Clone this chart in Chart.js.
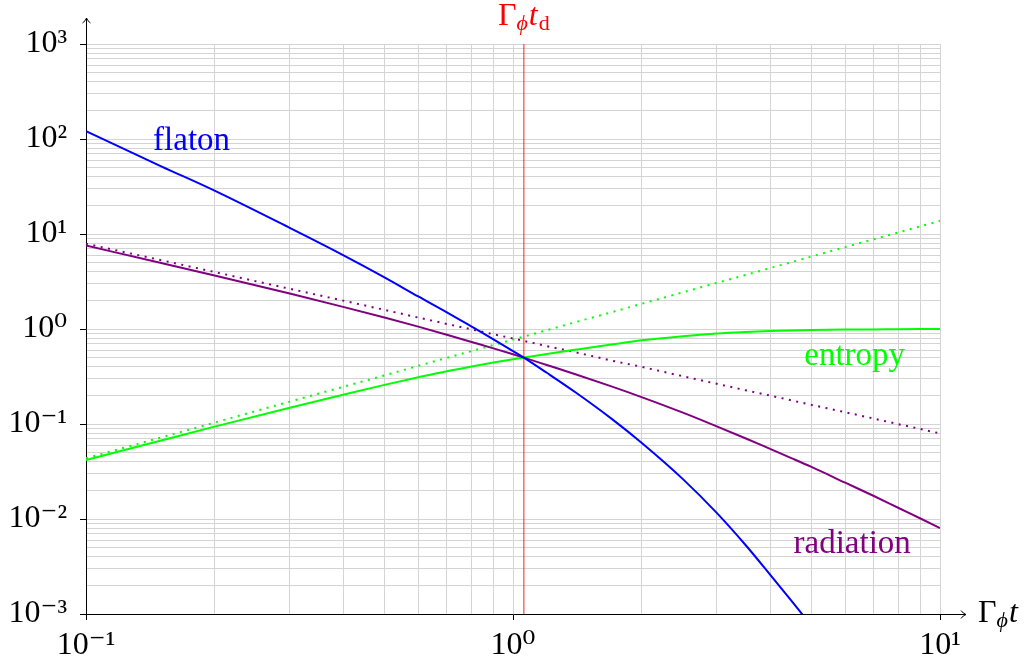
<!DOCTYPE html>
<html lang="en">
<head>
  <meta charset="UTF-8">
  <title>Flaton decay</title>
  <script src="https://cdn.jsdelivr.net/npm/chart.js"></script>
  <style>
    body { margin: 0; background: #fff; }
    canvas { display: block; }
  </style>
</head>
<body>
  <canvas id="myChart" width="1030" height="666"></canvas>

  <script>
    // values, x = Γφ t
    const tValues = [0.1, 0.15, 0.2, 0.3, 0.4, 0.5, 0.6, 0.7, 0.8, 0.9, 1.0, 1.06, 1.2, 1.4, 1.7, 2, 2.5, 3, 3.5, 4, 4.5, 5, 6, 7, 8, 9, 10];
    const flaton    = [121, 51.6, 28.6, 11.6, 6.0, 3.5, 2.2, 1.5, 1.06, 0.778, 0.586, 0.5, 0.346, 0.216, 0.114, 0.0635, 0.0263, 0.0116, 0.00536, 0.0026, 0.00136, 0.00075];
    const radiation = [7.55, 4.95, 3.66, 2.36, 1.71, 1.32, 1.06, 0.87, 0.73, 0.625, 0.542, 0.5, 0.418, 0.334, 0.249, 0.192, 0.1316, 0.0944, 0.0708, 0.0547, 0.0435, 0.0353, 0.0241, 0.01746, 0.01306, 0.01012, 0.00804];
    const entropy   = [0.0418, 0.0671, 0.0938, 0.148, 0.203, 0.258, 0.31, 0.36, 0.404, 0.444, 0.48, 0.5, 0.546, 0.605, 0.686, 0.76, 0.84, 0.895, 0.928, 0.95, 0.966, 0.975, 0.985, 0.99, 0.995, 0.998, 1.0];
    // dotted approximations
    const radiationApprox = [7.9, 5.3, 3.98, 2.65, 1.99, 1.59, 1.32, 1.13, 0.99, 0.88, 0.795, 0.75, 0.66, 0.57, 0.465, 0.40, 0.318, 0.265, 0.227, 0.199, 0.177, 0.159, 0.133, 0.114, 0.0995, 0.0885, 0.0795];
    const entropyApprox   = [0.0435, 0.0723, 0.1035, 0.172, 0.246, 0.325, 0.409, 0.496, 0.586, 0.678, 0.774, 0.832, 0.972, 1.18, 1.50, 1.84, 2.43, 3.06, 3.70, 4.38, 5.07, 5.79, 7.27, 8.81, 10.4, 12.07, 13.76];

    const tDecay = 1.06;
    const xRange = [0.1, 10];
    const yRange = [1e-3, 1e3];
    const xTickLabels = ['10⁻¹', '10⁰', '10¹'];
    const yTickLabels = ['10⁻³', '10⁻²', '10⁻¹', '10⁰', '10¹', '10²', '10³'];

    const serif = '"Liberation Serif", "DejaVu Serif", serif';
    Chart.defaults.font.family = serif;
    Chart.defaults.color = '#000';

    function points(ys) {
      return ys.map((y, i) => ({x: tValues[i], y: y}));
    }

    // one tick per 1..9 x 10^n, major on powers of ten
    function decadeTicks(scale) {
      const lo = Math.round(Math.log10(scale.min));
      const hi = Math.round(Math.log10(scale.max));
      const ticks = [];
      for (let e = lo; e < hi; e++) {
        for (let k = 1; k < 10; k++) ticks.push({value: k * Math.pow(10, e), major: k === 1});
      }
      ticks.push({value: Math.pow(10, hi), major: true});
      scale.ticks = ticks;
    }

    function labelFor(labels, min) {
      return function (value, index, ticks) {
        if (!ticks[index].major) return '';
        return labels[Math.round(Math.log10(value)) - Math.round(Math.log10(min))];
      };
    }

    // Γφt with subscript pieces
    function drawSymbol(ctx, parts, x, y, align) {
      const widths = parts.map(p => {
        ctx.font = p.style + ' ' + p.size + 'px ' + serif;
        return ctx.measureText(p.text).width + (p.gap || 0);
      });
      const total = widths.reduce((a, b) => a + b, 0);
      let cx = align === 'center' ? x - total / 2 : x;
      ctx.textAlign = 'left';
      ctx.textBaseline = 'alphabetic';
      parts.forEach((p, i) => {
        ctx.font = p.style + ' ' + p.size + 'px ' + serif;
        ctx.fillText(p.text, cx, y + (p.dy || 0));
        cx += widths[i];
      });
    }

    const decorations = {
      id: 'decorations',
      afterDraw(chart) {
        const {ctx, chartArea: a, scales: {x, y}} = chart;
        ctx.save();

        // axis arrows
        ctx.strokeStyle = '#000';
        ctx.lineWidth = 1;
        ctx.beginPath();
        ctx.moveTo(a.left + 0.5, a.top);
        ctx.lineTo(a.left + 0.5, a.top - 26);
        ctx.moveTo(a.left - 3.5, a.top - 21);
        ctx.quadraticCurveTo(a.left - 0.5, a.top - 23, a.left + 0.5, a.top - 26);
        ctx.quadraticCurveTo(a.left + 1.5, a.top - 23, a.left + 4.5, a.top - 21);
        ctx.moveTo(a.right, a.bottom + 0.5);
        ctx.lineTo(a.right + 26, a.bottom + 0.5);
        ctx.moveTo(a.right + 21, a.bottom - 3.5);
        ctx.quadraticCurveTo(a.right + 23, a.bottom - 0.5, a.right + 26, a.bottom + 0.5);
        ctx.quadraticCurveTo(a.right + 23, a.bottom + 1.5, a.right + 21, a.bottom + 4.5);
        ctx.stroke();

        // curve names
        ctx.font = '33px ' + serif;
        ctx.textAlign = 'left';
        ctx.textBaseline = 'alphabetic';
        ctx.fillStyle = '#0000ff';
        ctx.fillText('flaton', x.getPixelForValue(0.1436), y.getPixelForValue(76.6));
        ctx.fillStyle = '#00ff00';
        ctx.fillText('entropy', x.getPixelForValue(4.81), y.getPixelForValue(0.418));
        ctx.fillStyle = '#800080';
        ctx.fillText('radiation', x.getPixelForValue(4.54), y.getPixelForValue(0.00438));

        // Γφ t_d above the red line
        ctx.fillStyle = '#ff0000';
        drawSymbol(ctx, [
          {text: 'Γ', size: 32, style: ''},
          {text: 'ϕ', size: 22, style: 'italic', dy: 5, gap: 1},
          {text: 't', size: 32, style: 'italic', gap: 1},
          {text: 'd', size: 22, style: '', dy: 5}
        ], x.getPixelForValue(tDecay), a.top - 19, 'center');

        // axis name
        ctx.fillStyle = '#000';
        drawSymbol(ctx, [
          {text: 'Γ', size: 32, style: ''},
          {text: 'ϕ', size: 22, style: 'italic', dy: 5, gap: 1},
          {text: 't', size: 32, style: 'italic'}
        ], a.right + 38, a.bottom + 8, 'left');

        ctx.restore();
      }
    };

    const solid = (label, data, color) => ({
      label: label, data: points(data), borderColor: color, borderWidth: 2,
      pointRadius: 0, cubicInterpolationMode: 'monotone'
    });
    const dotted = (label, data, color) => ({
      label: label, data: points(data), borderColor: color, borderWidth: 2,
      borderDash: [2, 5.5], pointRadius: 0
    });

    const ctx = document.getElementById('myChart').getContext('2d');
    const myChart = new Chart(ctx, {
      type: 'scatter',
      data: {
        datasets: [
          solid('flaton', flaton, '#0000ff'),
          solid('radiation', radiation, '#800080'),
          solid('entropy', entropy, '#00ff00'),
          dotted('radiation approx', radiationApprox, '#800080'),
          dotted('entropy approx', entropyApprox, '#00ff00'),
          {
            label: 'decay time',
            data: [{x: tDecay, y: yRange[0]}, {x: tDecay, y: yRange[1]}],
            borderColor: 'rgba(255, 0, 0, 0.55)', borderWidth: 1.6, pointRadius: 0
          }
        ]
      },
      options: {
        responsive: false,
        animation: false,
        showLine: true,
        layout: { padding: { left: 0, top: 44, right: 90, bottom: 0 } },
        plugins: { legend: { display: false }, tooltip: { enabled: false } },
        scales: {
          x: {
            type: 'logarithmic',
            min: xRange[0], max: xRange[1],
            afterBuildTicks: decadeTicks,
            afterFit: s => { s.height = 52; },
            border: { color: '#000', width: 1 },
            grid: {
              color: '#d4d4d4', lineWidth: 1, tickLength: 6,
              tickColor: c => (c.tick && c.tick.major) ? '#000' : 'rgba(0,0,0,0)'
            },
            ticks: {
              autoSkip: false, maxRotation: 0, padding: 6,
              font: { size: 32 },
              callback: labelFor(xTickLabels, xRange[0])
            }
          },
          y: {
            type: 'logarithmic',
            min: yRange[0], max: yRange[1],
            afterBuildTicks: decadeTicks,
            afterFit: s => { s.width = 86; },
            border: { color: '#000', width: 1 },
            grid: {
              color: '#d4d4d4', lineWidth: 1, tickLength: 6,
              tickColor: c => (c.tick && c.tick.major) ? '#000' : 'rgba(0,0,0,0)'
            },
            ticks: {
              autoSkip: false, padding: 13,
              font: { size: 32 },
              callback: labelFor(yTickLabels, yRange[0])
            }
          }
        }
      },
      plugins: [decorations]
    });
  </script>
</body>
</html>
